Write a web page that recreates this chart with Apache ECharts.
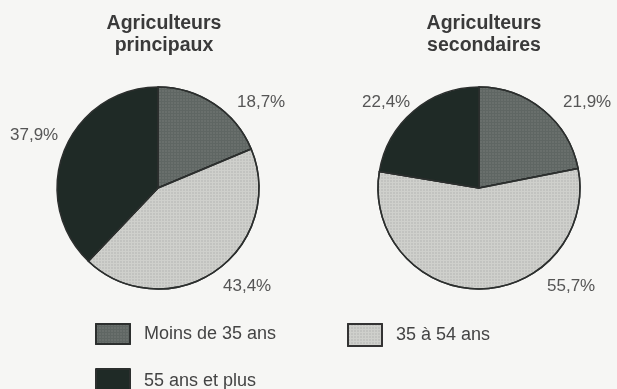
<!DOCTYPE html>
<html>
<head>
<meta charset="utf-8">
<script src="https://cdn.jsdelivr.net/npm/echarts@6/dist/echarts.min.js"></script>
<style>
html,body{margin:0;padding:0;background:#f6f6f4;}
#c{width:617px;height:389px;}
</style>
</head>
<body>
<div id="c"></div>
<script>
const categories = ['Moins de 35 ans', '35 à 54 ans', '55 ans et plus'];
const principaux = [18.7, 43.4, 37.9];
const secondaires = [21.9, 55.7, 22.4];
const pieTitles = ['Agriculteurs\nprincipaux', 'Agriculteurs\nsecondaires'];

const colors = ['#5f6663', '#cfd0cc', '#1f2a26'];
const decals = [
  {symbol: 'circle', symbolSize: 0.7, dashArrayX: [[2, 1]], dashArrayY: [2, 1], color: 'rgba(255,255,255,0.18)'},
  {symbol: 'circle', symbolSize: 0.7, dashArrayX: [[2, 1]], dashArrayY: [2, 1], color: 'rgba(60,60,60,0.22)'},
  null
];

function fmt(v) { return v.toFixed(1).replace('.', ',') + '%'; }

function makeData(vals) {
  return categories.map((name, i) => {
    const d = {name: name, value: vals[i], itemStyle: {color: colors[i]}};
    if (decals[i]) d.itemStyle.decal = decals[i];
    return d;
  });
}

// label anchor (left edge, vertical middle) per slice
const labelPos = [
  [[237, 102], [223, 286], [10, 135]],
  [[563, 102], [547, 286], [362, 102]]
];

const chart = echarts.init(document.getElementById('c'), null, {renderer: 'canvas'});

function pieSeries(idx, vals, cx) {
  return {
    type: 'pie',
    radius: 101,
    center: [cx, 188],
    startAngle: 90,
    clockwise: true,
    silent: true,
    animation: false,
    avoidLabelOverlap: false,
    data: makeData(vals),
    itemStyle: {borderColor: '#2c2f2e', borderWidth: 1.5},
    label: {
      show: true,
      position: 'outside',
      overflow: 'none',
      formatter: p => fmt(p.value),
      fontFamily: 'Liberation Sans, Arial, sans-serif',
      fontSize: 17,
      color: '#555'
    },
    labelLine: {show: false},
    labelLayout: function (params) {
      const pos = labelPos[idx][params.dataIndex];
      return {x: pos[0], y: pos[1], align: 'left', verticalAlign: 'middle', hideOverlap: false};
    }
  };
}

const legendText = {fontFamily: 'Liberation Sans, Arial, sans-serif', fontSize: 18, color: '#444', padding: [0, 0, 0, 9]};

chart.setOption({
  backgroundColor: '#f6f6f4',
  title: [
    {text: pieTitles[0], left: 159, top: 8, textAlign: 'center',
     textStyle: {fontFamily: 'Liberation Sans, Arial, sans-serif', fontWeight: 'bold', fontSize: 19.5, lineHeight: 22, color: '#3a3a3a'}},
    {text: pieTitles[1], left: 479, top: 8, textAlign: 'center',
     textStyle: {fontFamily: 'Liberation Sans, Arial, sans-serif', fontWeight: 'bold', fontSize: 19.5, lineHeight: 22, color: '#3a3a3a'}}
  ],
  legend: [
    {data: [categories[0]], left: 95, top: 323, padding: 0, itemWidth: 34, itemHeight: 20, icon: 'rect', textStyle: legendText, selectedMode: false},
    {data: [categories[1]], left: 347, top: 323, padding: 0, itemWidth: 34, itemHeight: 22, icon: 'rect', textStyle: legendText, selectedMode: false,
     itemStyle: {borderColor: '#333', borderWidth: 2}},
    {data: [categories[2]], left: 95, top: 368, padding: 0, itemWidth: 34, itemHeight: 24, icon: 'rect', textStyle: legendText, selectedMode: false}
  ],
  series: [
    pieSeries(0, principaux, 158),
    pieSeries(1, secondaires, 479)
  ]
});
</script>
</body>
</html>
